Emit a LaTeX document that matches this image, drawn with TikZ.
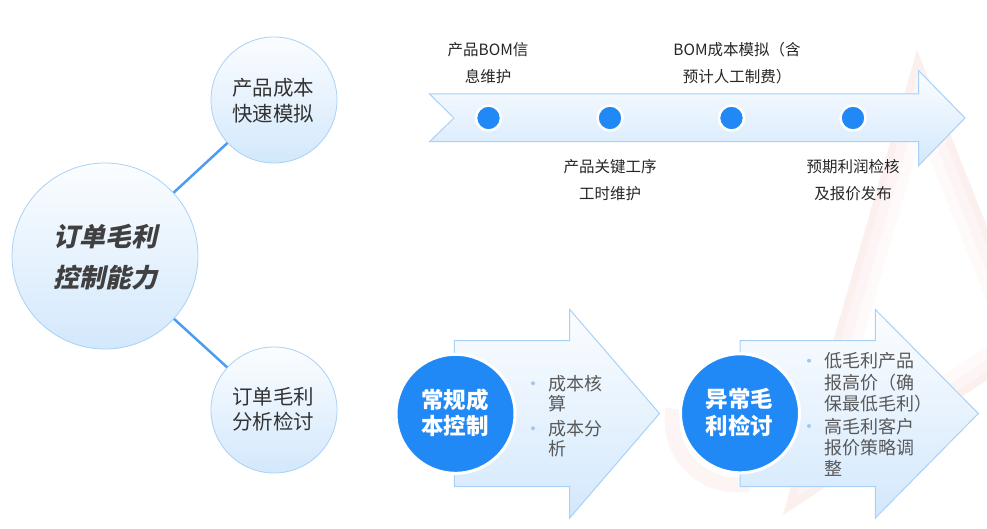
\documentclass[tikz,border=0pt]{standalone}
\usepackage{fontspec}
\setmainfont{Noto Sans CJK SC}
\newfontfamily\slantcjk[FakeSlant=0.22]{Noto Sans CJK SC}
\definecolor{cborder}{HTML}{A9D1F7}
\definecolor{ctop}{HTML}{FBFDFF}
\definecolor{cbot}{HTML}{D3E8FC}
\definecolor{cline}{HTML}{4C9CF0}
\definecolor{cdark}{HTML}{2189F6}
\definecolor{ctext}{HTML}{333333}
\definecolor{cgray}{HTML}{595959}
\definecolor{cbullet}{HTML}{9DC9F3}
\definecolor{wm}{HTML}{F8DEDB}
\tikzset{
  bubble/.style={circle, draw=cborder, line width=0.8pt, top color=ctop, bottom color=cbot, inner sep=0pt},
  arrowshape/.style={draw=cborder, line width=1pt, top color=ctop, bottom color=cbot},
  dot/.style={circle, fill=cdark, draw=white, line width=2.5pt, minimum size=25pt, inner sep=0pt},
  darkdisc/.style={circle, fill=cdark, draw=white, line width=3pt, minimum size=119pt, inner sep=0pt},
  lbl/.style={align=center, text=black!85, font={\fontsize{15.5}{27}\selectfont}, inner sep=0pt},
  smalltxt/.style={align=center, text=ctext, font={\fontsize{20.5}{25.5}\selectfont}, inner sep=0pt},
  bullettxt/.style={align=left, anchor=west, text=cgray, inner sep=0pt},
  bul/.style={circle, fill=cbullet, minimum size=4pt, inner sep=0pt},
  conn/.style={draw=cline, line width=2.5pt}
}
\begin{document}
\begin{tikzpicture}[x=1pt, y=-1pt]
\useasboundingbox (0,0) rectangle (987,529);
\fill[white] (0,0) rectangle (987,529);
% faint watermark
\begin{scope}
  \clip (917,50) -- (783,515) -- (1035,348) -- cycle;
  \draw[wm, opacity=0.12, line width=56pt, line join=miter] (917,50) -- (783,515) -- (1035,348) -- cycle;
  \draw[wm, opacity=0.15, line width=34pt, line join=miter] (917,50) -- (783,515) -- (1035,348) -- cycle;
  \draw[wm, opacity=0.2, line width=14pt, line join=miter] (917,50) -- (783,515) -- (1035,348) -- cycle;
\end{scope}
\draw[wm, opacity=0.3, line width=15pt] (737,420) ++(190:65) arc[start angle=190, end angle=80, radius=65];
% central circles
\node[bubble, minimum size=186pt] (main) at (105,256) {};
\node[bubble, minimum size=126pt] (quick) at (274,100) {};
\node[bubble, minimum size=126pt] (review) at (274,410) {};
\draw[conn] (main) -- (quick);
\draw[conn] (main) -- (review);
\node[align=center, text=black!75, font={\slantcjk\bfseries\fontsize{26}{41}\selectfont}, inner sep=0pt] (maintxt) at (105,257) {订单毛利\\控制能力};
\node[smalltxt] (quicktxt) at (273,100.5) {产品成本\\快速模拟};
\node[smalltxt] (reviewtxt) at (273,409.5) {订单毛利\\分析检讨};
% top timeline arrow
\path[arrowshape] (429.5,94) -- (918.5,94) -- (918.5,70.5) -- (965,118) -- (918.5,165.7) -- (918.5,141.7) -- (429.5,141.7) -- (454,118) -- cycle;
\node[dot] (d1) at (488.5,118) {};
\node[dot] (d2) at (610,118) {};
\node[dot] (d3) at (731.5,118) {};
\node[dot] (d4) at (853,118) {};
\node[lbl] (l1) at (488,63.5) {产品BOM信\\息维护};
\node[lbl] (l2) at (610,180) {产品关键工序\\工时维护};
\node[lbl] (l3) at (737,63.5) {BOM成本模拟（含\\预计人工制费）};
\node[lbl] (l4) at (853,180) {预期利润检核\\及报价发布};
% bottom arrows
\path[arrowshape] (454.3,340.7) -- (569.7,340.7) -- (569.7,309.5) -- (659.5,413.5) -- (569.7,518) -- (569.7,486.7) -- (454.3,486.7) -- cycle;
\path[arrowshape] (740,340.7) -- (875.3,340.7) -- (875.3,309.5) -- (978.3,413.5) -- (875.3,518) -- (875.3,486.7) -- (740,486.7) -- cycle;
\node[darkdisc] (c1) at (455.5,413.8) {};
\node[darkdisc] (c2) at (740,413.3) {};
\node[align=center, text=white, font={\bfseries\fontsize{22.5}{26.5}\selectfont}, inner sep=0pt] (c1t) at (455,413) {常规成\\本控制};
\node[align=center, text=white, font={\bfseries\fontsize{22.5}{26.5}\selectfont}, inner sep=0pt] (c2t) at (739.5,412.5) {异常毛\\利检讨};
% bullets arrow 1
\node[bullettxt, font={\fontsize{18}{20}\selectfont}] (b11) at (548.4,393.3) {成本核\\算};
\node[bullettxt, font={\fontsize{18}{20}\selectfont}] (b12) at (548.4,438.3) {成本分\\析};
\node[bul] (p11) at (533,383.3) {};
\node[bul] (p12) at (533,428.3) {};
% bullets arrow 2
\node[bullettxt, font={\fontsize{18}{21.6}\selectfont}] (b21) at (824,382.4) {低毛利产品\\报高价（确\\保最低毛利）};
\node[bullettxt, font={\fontsize{18}{21.2}\selectfont}] (b22) at (824,447.2) {高毛利客户\\报价策略调\\整};
\node[bul] (p21) at (809,360.7) {};
\node[bul] (p22) at (809,426) {};
\end{tikzpicture}
\end{document}
